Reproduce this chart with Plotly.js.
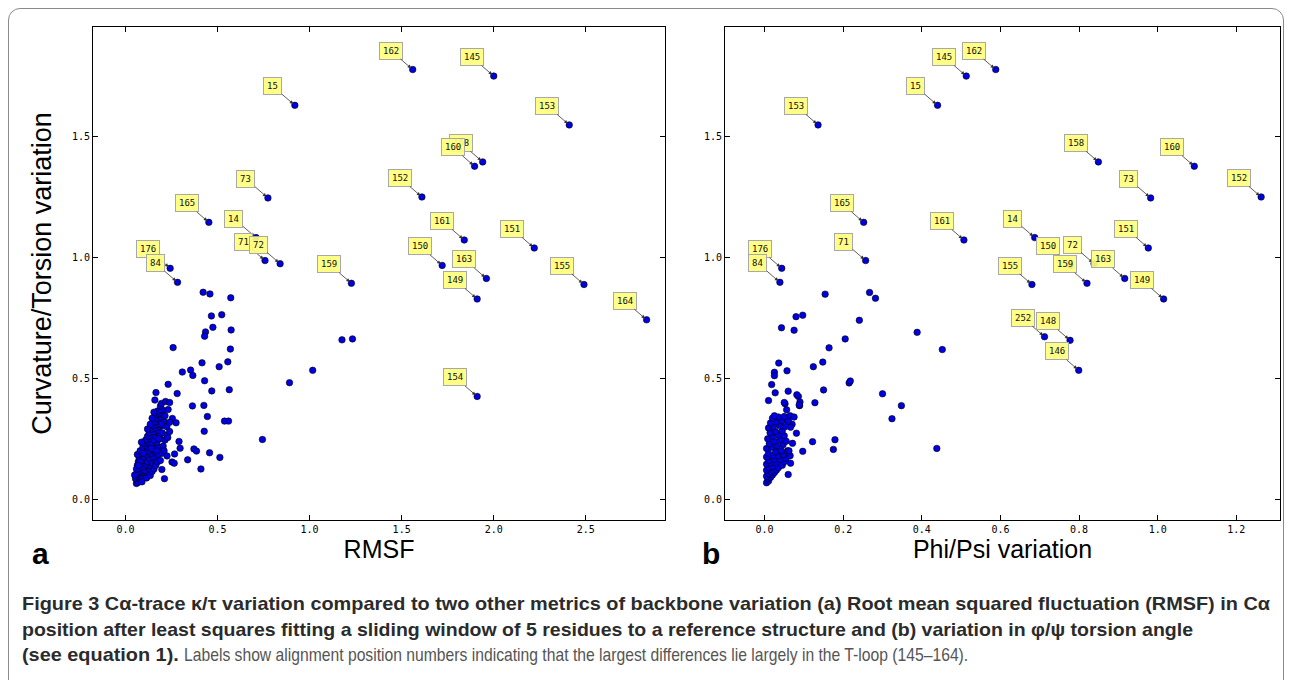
<!DOCTYPE html>
<html>
<head>
<meta charset="utf-8">
<script src="https://cdn.plot.ly/plotly-3.0.1.min.js"></script>
<style>
  html, body { margin:0; padding:0; background:#fff; width:1293px; height:680px; overflow:hidden; }
  #frame { position:absolute; left:8px; top:8px; width:1276px; height:720px; border:1px solid #8a8a8a; border-radius:12px; box-sizing:border-box; }
  #chart { position:absolute; left:0; top:0; width:1293px; height:680px; }
  #caption { position:absolute; left:22px; top:591px; white-space:nowrap; font-family:"Liberation Sans Narrow","Liberation Sans","Arial Narrow",sans-serif; font-size:19px; line-height:25.5px; color:#2b2b2b; }
  #caption > div { transform-origin:0 0; width:max-content; }
  #cap3 { position:relative; height:25.5px; }
  #cap3 span { position:absolute; top:0; left:0; transform-origin:0 0; width:max-content; }
  #caption b, #cap3b { font-weight:bold; }
  #cap3r { font-weight:normal; color:#555; }
</style>
</head>
<body>
<div id="frame"></div>
<div id="chart"></div>
<div id="caption">
  <div id="cap1"><b>Figure 3 Cα-trace κ/τ variation compared to two other metrics of backbone variation (a) Root mean squared fluctuation (RMSF) in Cα</b></div>
  <div id="cap2"><b>position after least squares fitting a sliding window of 5 residues to a reference structure and (b) variation in φ/ψ torsion angle</b></div>
  <div id="cap3"><span id="cap3b">(see equation 1).</span><span id="cap3r">Labels show alignment position numbers indicating that the largest differences lie largely in the T-loop (145–164).</span></div>
</div>
<script>
// ---------------- Panel a: RMSF vs curvature/torsion variation ----------------
const labelsA  = ["162","145","15","153","158","160","73","152","165","14","161","151","71","72","150","176","84","163","159","155","149","164","154"];
const labelsAX = [1.56,2.00,0.92,2.41,1.94,1.896,0.774,1.61,0.453,0.709,1.84,2.22,0.758,0.84,1.72,0.243,0.283,1.96,1.227,2.49,1.91,2.83,1.91];
const labelsAY = [1.777,1.75,1.629,1.548,1.395,1.377,1.246,1.25,1.145,1.082,1.072,1.039,0.987,0.974,0.967,0.955,0.897,0.913,0.893,0.888,0.828,0.742,0.425];

const otherAX = [0.422,0.459,0.572,0.467,0.523,0.475,0.574,0.435,0.43,0.259,0.57,0.416,0.556,0.509,0.309,0.354,0.366,0.43,0.232,0.564,0.469,0.166,0.281,0.16,0.196,0.218,0.24,0.232,0.364,0.426,0.445,0.255,0.24,0.275,0.538,0.56,0.428,0.744,0.891,1.017,1.176,1.233,0.291,0.297,0.372,0.386,0.338,0.457,0.513,0.41,0.267,0.253,0.265,0.226,0.212,0.087,0.198];
const otherAY = [0.856,0.849,0.833,0.758,0.763,0.711,0.7,0.692,0.674,0.627,0.621,0.564,0.568,0.548,0.526,0.534,0.512,0.49,0.475,0.453,0.448,0.441,0.437,0.41,0.396,0.404,0.4,0.371,0.386,0.388,0.342,0.334,0.318,0.316,0.323,0.323,0.281,0.247,0.482,0.533,0.659,0.663,0.239,0.211,0.208,0.199,0.163,0.192,0.173,0.125,0.187,0.154,0.149,0.179,0.085,0.236,0.123];

const clusterAX = [0.06,0.065,0.07,0.055,0.075,0.085,0.065,0.08,0.095,0.1,0.06,0.07,0.09,0.11,0.12,0.085,0.105,0.13,0.075,0.1,
  0.065,0.085,0.11,0.125,0.14,0.07,0.095,0.12,0.145,0.16,0.075,0.1,0.13,0.15,0.17,0.065,0.09,0.115,0.14,0.16,0.18,0.08,0.105,0.125,0.15,0.095,
  0.115,0.135,0.16,0.18,0.1,0.125,0.145,0.17,0.11,0.135,0.155,0.19,0.12,0.145,0.165,0.185,0.13,0.155,0.175,0.2,
  0.14,0.165,0.185,0.15,0.175,0.2,0.16,0.185,0.21,0.17,0.195,0.165,0.185,0.205,0.175,0.2,0.19,
  0.05,0.09,0.115,0.135,0.145,0.155,0.165,0.175,0.19,0.2,0.205,0.215,0.225,0.12,0.135,0.145,0.155,0.225,0.23,0.24,0.21,0.18,0.195,0.215,0.08,0.06,0.07,0.1,0.14,0.17];
const clusterAY = [0.065,0.075,0.07,0.085,0.085,0.08,0.095,0.1,0.09,0.105,0.105,0.115,0.115,0.1,0.11,0.125,0.12,0.125,0.13,0.135,
  0.14,0.145,0.145,0.14,0.135,0.155,0.16,0.155,0.15,0.16,0.17,0.175,0.17,0.175,0.17,0.185,0.19,0.185,0.19,0.195,0.185,0.2,0.205,0.2,0.205,0.215,
  0.22,0.215,0.22,0.215,0.23,0.235,0.23,0.235,0.245,0.25,0.245,0.25,0.26,0.265,0.26,0.27,0.275,0.28,0.285,0.275,
  0.29,0.295,0.3,0.305,0.31,0.305,0.32,0.325,0.32,0.335,0.34,0.35,0.355,0.35,0.365,0.37,0.385,
  0.1,0.072,0.088,0.098,0.115,0.125,0.14,0.155,0.16,0.19,0.22,0.245,0.265,0.29,0.31,0.335,0.36,0.3,0.255,0.28,0.2,0.25,0.31,0.345,0.155,0.125,0.14,0.19,0.21,0.2];

// ---------------- Panel b: Phi/Psi variation vs curvature/torsion variation ----------------
const labelsB  = ["162","145","15","153","158","160","73","152","165","161","14","151","71","150","72","176","84","155","159","163","149","252","148","146"];
const labelsBX = [0.588,0.513,0.44,0.136,0.849,1.093,0.982,1.263,0.252,0.507,0.687,0.976,0.257,0.778,0.838,0.0436,0.039,0.68,0.82,0.916,1.015,0.712,0.777,0.799];
const labelsBY = [1.777,1.75,1.629,1.548,1.395,1.377,1.246,1.25,1.145,1.072,1.082,1.039,0.987,0.967,0.974,0.955,0.897,0.888,0.893,0.913,0.828,0.672,0.657,0.533];

const otherBX = [0.154,0.267,0.282,0.241,0.097,0.08,0.043,0.075,0.205,0.388,0.452,0.164,0.036,0.124,0.148,0.025,0.025,0.057,0.018,0.215,0.218,0.027,0.01,0.06,0.15,0.086,0.09,0.089,0.052,0.056,0.128,0.3,0.348,0.324,0.438,0.179,0.175,0.122,0.097,0.081,0.066,0.06,0.071,0.06,0.066,0.062,0.082,0.088,0.05];
const otherBY = [0.848,0.855,0.831,0.74,0.761,0.755,0.709,0.699,0.663,0.69,0.619,0.626,0.563,0.548,0.567,0.525,0.511,0.531,0.474,0.481,0.489,0.44,0.408,0.447,0.452,0.425,0.402,0.387,0.395,0.37,0.399,0.436,0.387,0.333,0.21,0.246,0.206,0.238,0.198,0.273,0.298,0.322,0.231,0.102,0.149,0.2,0.432,0.39,0.4];

const clusterBX = [0.005,0.01,0.008,0.015,0.005,0.02,0.01,0.025,0.015,0.005,0.03,
  0.01,0.02,0.035,0.045,0.005,0.015,0.03,0.05,0.01,0.025,0.04,0.055,0.005,0.02,0.035,0.048,0.065,0.01,0.028,0.042,0.058,
  0.005,0.018,0.032,0.047,0.012,0.025,0.04,0.055,0.008,0.02,0.035,0.05,0.014,0.028,0.045,
  0.01,0.022,0.038,0.052,0.07,0.015,0.03,0.045,0.06,0.02,0.035,0.05,0.065,0.075,0.025];
const clusterBY = [0.068,0.075,0.085,0.09,0.095,0.1,0.105,0.11,0.115,0.12,0.12,
  0.13,0.135,0.13,0.14,0.145,0.15,0.15,0.155,0.16,0.165,0.165,0.17,0.175,0.18,0.18,0.185,0.18,0.19,0.195,0.2,0.2,
  0.21,0.215,0.22,0.225,0.23,0.24,0.245,0.24,0.25,0.26,0.265,0.262,0.275,0.28,0.282,
  0.295,0.3,0.305,0.3,0.31,0.315,0.32,0.325,0.325,0.335,0.34,0.342,0.345,0.34,0.345];

// ---------------- Axis ticks ----------------
const ticksAX = [0,0.5,1.0,1.5,2.0,2.5];
const ticksBX = [0,0.2,0.4,0.6,0.8,1.0,1.2];
const ticksY  = [0,0.5,1.0,1.5];

const markerStyle = { size: 6.5, color: 'rgb(0,0,225)', line: { color: '#000', width: 0.6 } };

const traces = [
  { type:'scatter', mode:'markers', xaxis:'x', yaxis:'y',
    x: clusterAX.concat(otherAX, labelsAX), y: clusterAY.concat(otherAY, labelsAY),
    marker: markerStyle, hoverinfo:'skip', showlegend:false },
  { type:'scatter', mode:'markers', xaxis:'x2', yaxis:'y2',
    x: clusterBX.concat(otherBX, labelsBX), y: clusterBY.concat(otherBY, labelsBY),
    marker: markerStyle, hoverinfo:'skip', showlegend:false }
];

function labelAnn(txt, x, y, xr, yr) {
  return { x:x, y:y, xref:xr, yref:yr, text:txt, showarrow:true,
    ax:-22, ay:-19, arrowhead:2, arrowsize:0.9, arrowwidth:0.8, arrowcolor:'#333', standoff:2,
    bgcolor:'rgba(255,255,125,0.92)', bordercolor:'#a8a8a8', borderwidth:1, borderpad:3,
    font:{ family:'DejaVu Sans Mono, monospace', size:9, color:'#111' } };
}
const anns = [];
labelsA.forEach((t,i) => anns.push(labelAnn(t, labelsAX[i], labelsAY[i], 'x', 'y')));
labelsB.forEach((t,i) => anns.push(labelAnn(t, labelsBX[i], labelsBY[i], 'x2', 'y2')));
anns.push({ text:'<b>a</b>', xref:'paper', yref:'paper', x:40/1293, y:1-553/680, xanchor:'center', yanchor:'middle', showarrow:false, font:{ family:'Liberation Sans, Arial, sans-serif', size:30, color:'#000' } });
anns.push({ text:'<b>b</b>', xref:'paper', yref:'paper', x:711/1293, y:1-553/680, xanchor:'center', yanchor:'middle', showarrow:false, font:{ family:'Liberation Sans, Arial, sans-serif', size:30, color:'#000' } });

const tickFont = { family:'DejaVu Sans Mono, monospace', size:10, color:'#000' };
const baseAxis = { showline:true, linecolor:'#000', linewidth:1, mirror:'ticks', ticks:'inside', ticklen:5, tickwidth:1, tickcolor:'#000',
  showgrid:false, zeroline:false, tickfont:tickFont, tickformat:'.1f', fixedrange:true };

const yDomain = [1-520/680, 1-27/680];
const layout = {
  width:1293, height:680, margin:{ l:0, r:0, t:0, b:0 },
  paper_bgcolor:'rgba(0,0,0,0)', plot_bgcolor:'#fff', showlegend:false,
  xaxis: Object.assign({}, baseAxis, { domain:[93/1293, 665/1293], range:[-0.176, 2.93], tickvals:ticksAX, anchor:'y',
    title:{ text:'RMSF', font:{ family:'Liberation Sans, Arial, sans-serif', size:25, color:'#000' }, standoff:6 } }),
  yaxis: Object.assign({}, baseAxis, { domain:yDomain, range:[-0.086, 1.953], tickvals:ticksY, anchor:'x',
    title:{ text:'Curvature/Torsion variation', font:{ family:'Liberation Sans, Arial, sans-serif', size:27, color:'#000' }, standoff:12 } }),
  xaxis2: Object.assign({}, baseAxis, { domain:[725/1293, 1280/1293], range:[-0.1007, 1.311], tickvals:ticksBX, anchor:'y2',
    title:{ text:'Phi/Psi variation', font:{ family:'Liberation Sans, Arial, sans-serif', size:25, color:'#000' }, standoff:6 } }),
  yaxis2: Object.assign({}, baseAxis, { domain:yDomain, range:[-0.086, 1.953], tickvals:ticksY, anchor:'x2' }),
  annotations: anns
};

Plotly.newPlot('chart', traces, layout, { displayModeBar:false, staticPlot:true });

// fit caption lines to their widths in the reference
function fit(id, target) {
  const el = document.getElementById(id);
  const w = el.getBoundingClientRect().width;
  const s = w > 0 ? target / w : 1;
  el.style.transform = 'scaleX(' + s + ')';
  return s;
}
const s1 = fit('cap1', 1248);
fit('cap2', 1171);
// line 3: bold part at the same scale as line 1, regular part fitted to the rest
const b3 = document.getElementById('cap3b');
const r3 = document.getElementById('cap3r');
const bw = b3.getBoundingClientRect().width;
b3.style.transform = 'scaleX(' + s1 + ')';
const rLeft = bw * s1 + 5;
r3.style.left = rLeft + 'px';
const rw = r3.getBoundingClientRect().width;
if (rw > 0) r3.style.transform = 'scaleX(' + ((946 - rLeft) / rw) + ')';
</script>
</body>
</html>
